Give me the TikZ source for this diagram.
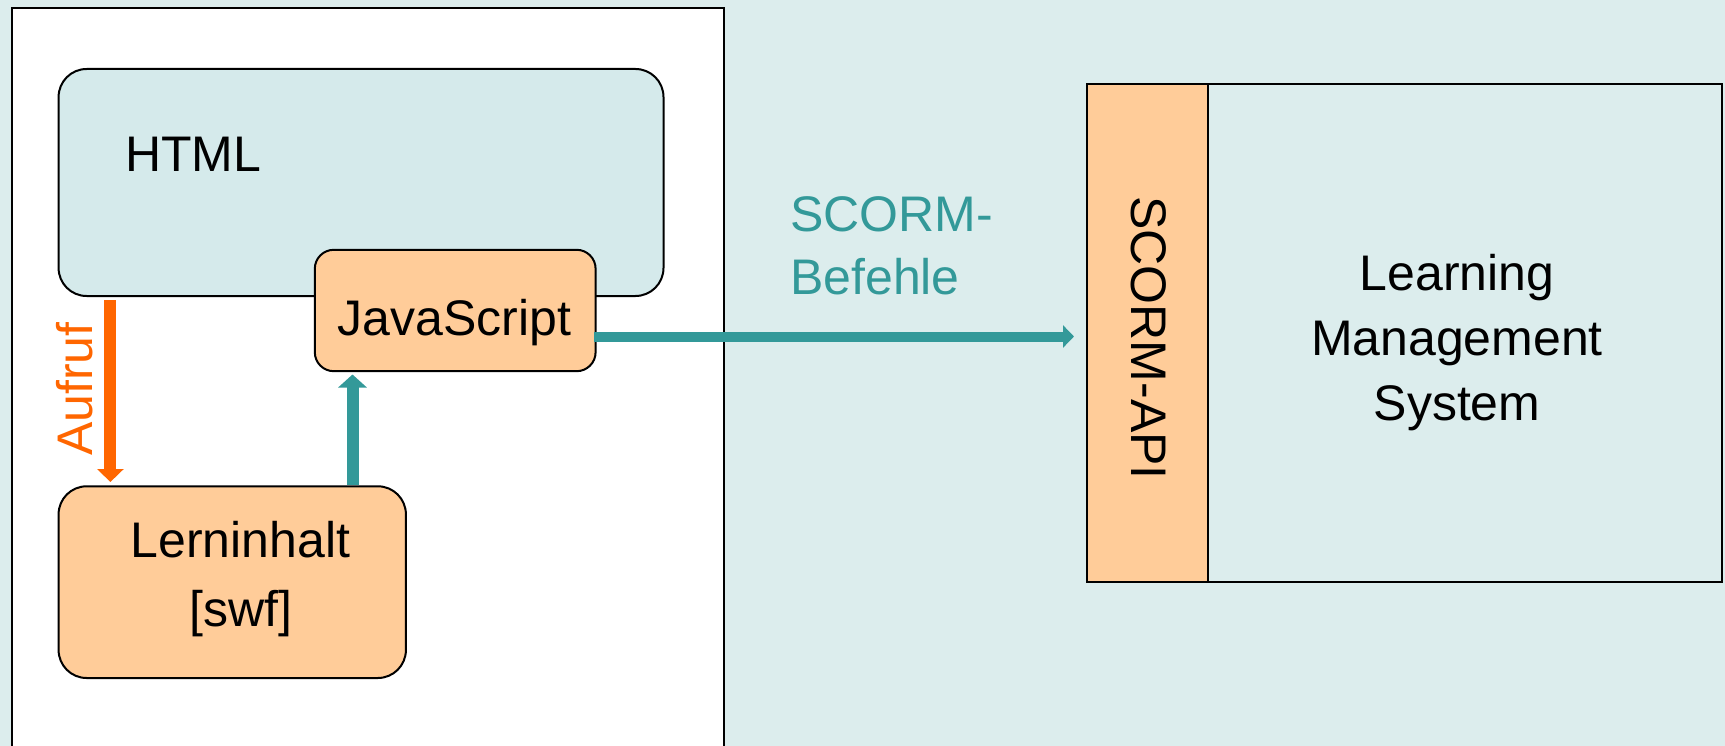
\documentclass[tikz,border=0pt]{standalone}
\usepackage{fontspec}
\setmainfont{Liberation Sans}
\usetikzlibrary{arrows.meta,calc}
\definecolor{bgc}{HTML}{DCEDED}
\definecolor{htmlc}{HTML}{D5EAEB}
\definecolor{orfill}{HTML}{FFCC99}
\definecolor{tealc}{HTML}{339999}
\definecolor{orangec}{HTML}{FF6600}
\begin{document}
\begin{tikzpicture}[x=1pt,y=-1pt,
  box/.style={draw=black,line width=2pt,inner sep=0pt,anchor=north west},
  txt/.style={font=\fontsize{50}{64}\selectfont,inner sep=0pt},
  tealarrow/.style={line width=12pt,color=tealc,-{Triangle[width=28pt,length=13pt]}},
  orarrow/.style={line width=12pt,color=orangec,-{Triangle[width=26pt,length=13pt]}}
]
\useasboundingbox (0,0) rectangle (1725,746);
\clip (0,0) rectangle (1725,746);
\fill[bgc] (0,0) rectangle (1725,746);
% left panel
\node[box,fill=white,minimum width=712pt,minimum height=760pt] (panel) at (11,7) {};
% HTML box
\node[box,fill=htmlc,rounded corners=28pt,minimum width=604.9pt,minimum height=227pt] (html) at (57.6,68) {};
\node[txt,anchor=base west] (htmltxt) at (125,172) {HTML};
% JavaScript box
\node[box,fill=orfill,rounded corners=19pt,minimum width=280.8pt,minimum height=121.4pt] (js) at (313.8,248.8) {};
\node[txt,anchor=base] (jstxt) at (454.5,335.4) {JavaScript};
% Lerninhalt box
\node[box,fill=orfill,rounded corners=28pt,minimum width=347.3pt,minimum height=191.7pt] (lern) at (57.6,485.3) {};
\node[txt,align=center,font=\fontsize{50}{69}\selectfont] (lerntxt) at (240.5,579.5) {Lerninhalt\\{[swf]}};
% SCORM-API and LMS
\node[box,fill=orfill,minimum width=120.9pt,minimum height=498.1pt] (api) at (1085.7,83.3) {};
\node[box,fill=bgc,minimum width=514.4pt,minimum height=498.1pt] (lms) at (1206.6,83.3) {};
\node[txt,rotate=-90] (apitxt) at (1149,338) {SCORM-API};
\node[txt,align=center,font=\fontsize{50}{65}\selectfont] (lmstxt) at (1457,343) {Learning\\Management\\System};
% arrows
\draw[orarrow] ([xshift=52.8pt,yshift=-3pt]html.south west) -- ([xshift=52.8pt,yshift=3.3pt]lern.north west);
\node[txt,text=orangec,rotate=90] (aufruf) at (75,389) {Aufruf};
\draw[tealarrow] ([xshift=294.9pt]lern.north west) -- ([xshift=38.7pt,yshift=-2.3pt]js.south west);
\coordinate (hs) at ([xshift=-2.6pt,yshift=-26pt]js.east);
\draw[line width=10pt,color=tealc,-{Triangle[width=22pt,length=11pt]},shorten >=11.7pt] (hs) -- (hs -| api.west);
\node[txt,text=tealc,align=left,font=\fontsize{50}{63}\selectfont,anchor=west] (befehle) at (790,245.3) {SCORM-\\Befehle};
\end{tikzpicture}
\end{document}
